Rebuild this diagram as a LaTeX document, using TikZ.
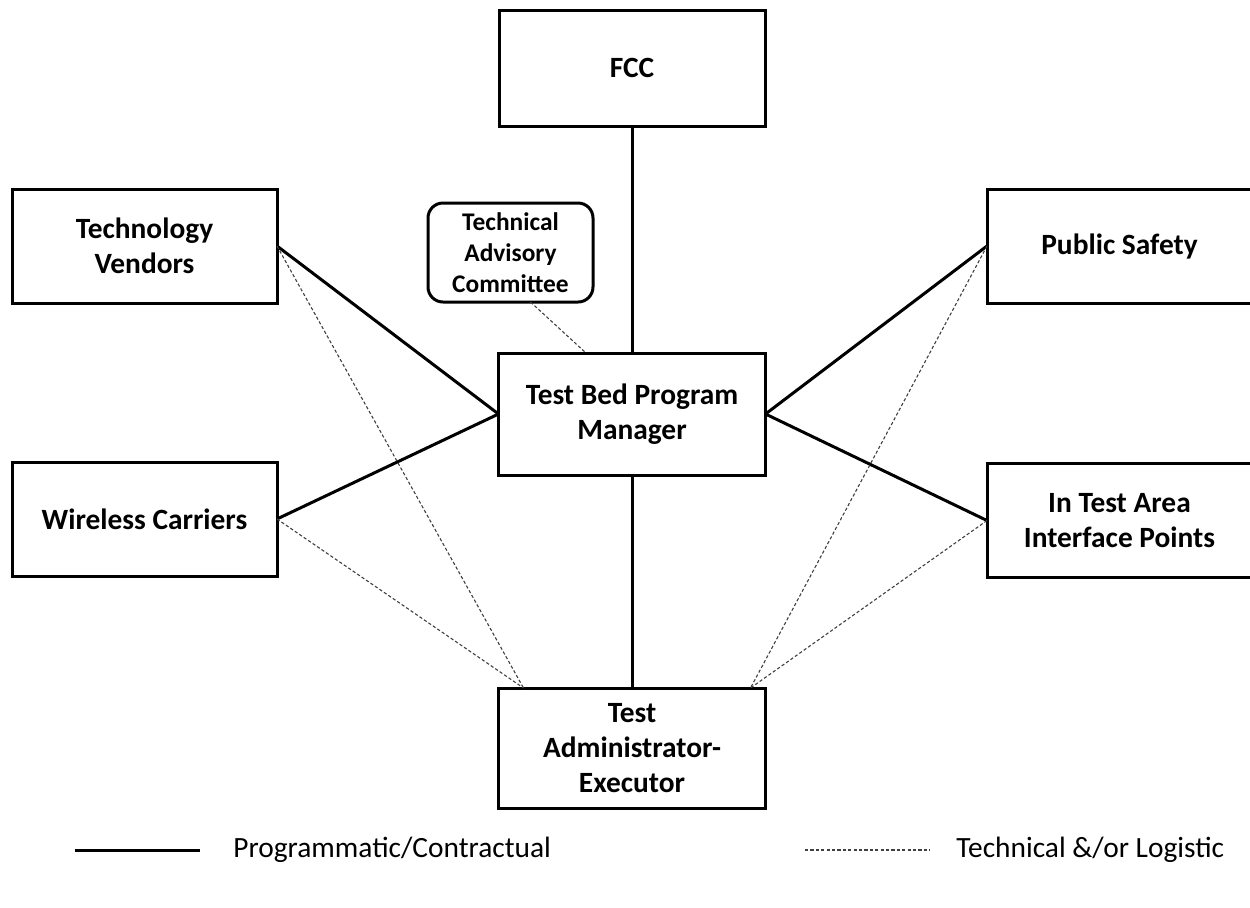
\documentclass[tikz,border=0pt]{standalone}
\usepackage{fontspec}
\setmainfont{Carlito}
\usetikzlibrary{positioning}

\begin{document}
\begin{tikzpicture}[x=0.5pt,y=-0.5pt,
    box/.style={draw,line width=1.5pt,outer sep=0pt,align=center,
      minimum width=132.5pt,minimum height=57pt,
      font=\fontsize{14.7}{17.5}\selectfont\bfseries},
    link/.style={line width=1.5pt},
    aux/.style={line width=0.55pt,black!75,dash pattern=on 1.6pt off 1.1pt}]
          \useasboundingbox (0,0) rectangle (1250,907);

          \draw (632,68) node[box,minimum width=133pt,minimum height=58pt] (fcc) {FCC};

          \draw (144.5,246) node[box] (vendors)
          {Technology\\Vendors};

          \draw (510.5,252.5) node[box,minimum width=82.5pt,minimum height=49.5pt,
          rounded corners=7.5pt,font=\fontsize{12.7}{15.5}\selectfont\bfseries] (tac)
          {Technical\\Advisory\\Committee};

          \draw (1119.5,246) node[box] (safety) {Public Safety};

          \draw (632,414) node[box,minimum width=133.5pt,minimum height=61pt] (tbpm)
          {Test Bed Program\\Manager};

          \draw (144.5,519) node[box] (carriers) {Wireless Carriers};

          \draw (1119.5,520.5) node[box] (interface)
          {In Test Area\\Interface Points};

          \draw (632,748) node[box,minimum width=133.5pt,minimum height=60pt] (admin)
          {Test\\Administrator-\\Executor};

          % where the dashed lines meet the boxes
          \coordinate (adminL) at ([xshift=12.5pt]admin.north west);
          \coordinate (adminR) at ([xshift=-7.5pt]admin.north east);
          \coordinate (tacS) at ([xshift=10pt]tac.south);
          \coordinate (tbpmN) at ([xshift=-23pt]tbpm.north);

          \draw[link] (fcc.south) to (tbpm.north);
          \draw[link] (tbpm.south) to (admin.north);

          \draw[link] (vendors.east) to (tbpm.west);

          \draw[link] (carriers.east) to (tbpm.west);

          \draw[link] (safety.west) to (tbpm.east);

          \draw[link] (interface.west) to (tbpm.east);

          \draw[aux] (tacS) to (tbpmN);
          \draw[aux] (vendors.east) to (adminL);
          \draw[aux] (carriers.east) to (adminL);
          \draw[aux] (safety.west) to (adminR);
          \draw[aux] (interface.west) to (adminR);

          % legend
          \coordinate (solidA) at (75,850);
          \coordinate (solidB) at (200,850);
          \coordinate (dashA) at (805,850);
          \coordinate (dashB) at (930,850);
          \draw[link] (solidA) to (solidB);
          \draw[aux] (dashA) to (dashB);
          \draw (233,850) node[anchor=west,inner sep=0pt,
          font=\fontsize{14.7}{17}\selectfont] (progtext) {Programmatic/Contractual};
          \draw (956,850) node[anchor=west,inner sep=0pt,
          font=\fontsize{14.7}{17}\selectfont] (techtext) {Technical \&/or Logistic};
        \end{tikzpicture}
\end{document}
